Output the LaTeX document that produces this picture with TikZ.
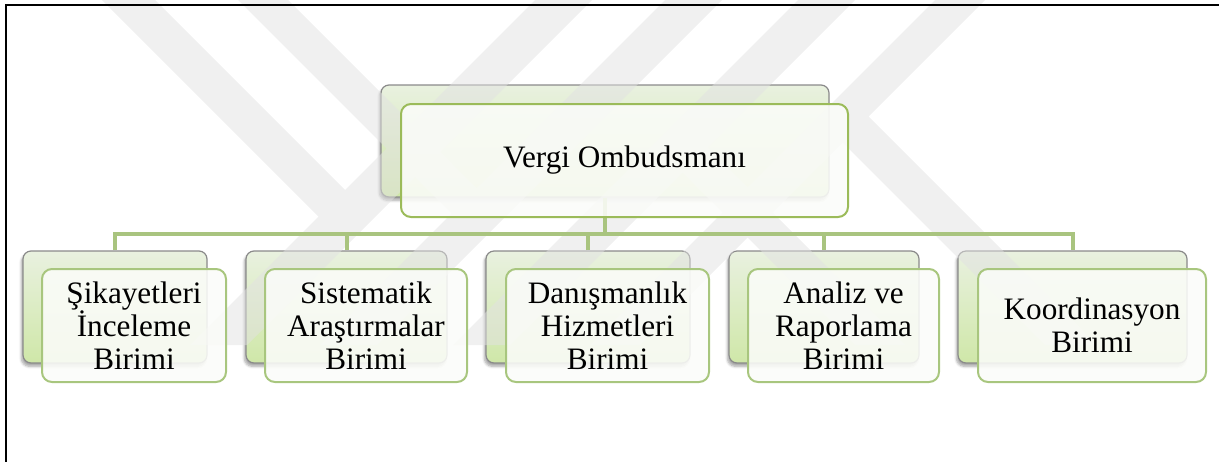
\documentclass[tikz,border=0pt]{standalone}
\usepackage{fontspec}
\setmainfont{Liberation Serif}
\usetikzlibrary{shadows.blur}

\definecolor{wmgray}{RGB}{226,226,226}
\definecolor{linkgreen}{HTML}{A9C47F}
\definecolor{mainedge}{HTML}{9BBB59}
\definecolor{childedge}{HTML}{A8C67E}
\definecolor{backtop}{RGB}{233,241,224}
\definecolor{backbot}{RGB}{207,231,168}
\definecolor{backedge}{HTML}{8A8A8A}
\definecolor{frontfill}{HTML}{FBFCF9}

\begin{document}
\begin{tikzpicture}[x=0.75pt,y=-0.75pt,
  backbox/.style={draw=backedge, line width=0.9pt, rounded corners=6pt,
    top color=backtop, bottom color=backbot,
    blur shadow={shadow xshift=-1.2pt, shadow yshift=-2.5pt,
      shadow blur steps=6, shadow opacity=35},
    minimum height=84pt, inner sep=0pt},
  frontbox/.style={draw=childedge, line width=1.5pt, rounded corners=7.5pt,
    fill=frontfill, fill opacity=0.88, text opacity=1,
    minimum height=84.75pt, inner sep=0pt, align=center,
    font=\fontsize{23.4}{24.75}\selectfont},
  link/.style={draw=linkgreen, line width=3pt}
]
\useasboundingbox (0,0) rectangle (1219,461);

% shaded back cards
\node[backbox, minimum width=336pt] (mb) at (605,141) {};
\node[backbox, minimum width=138pt] (c1b) at (115,307) {};
\node[backbox, minimum width=150.75pt] (c2b) at (346.5,307) {};
\node[backbox, minimum width=153pt] (c3b) at (588,307) {};
\node[backbox, minimum width=142.5pt] (c4b) at (824,307) {};
\node[backbox, minimum width=171.75pt] (c5b) at (1072.5,307) {};

% faint emblem made of diagonal bands, laid over the back cards
\fill[wmgray, fill opacity=0.5]
  (102,0) -- (155,0) -- (345,190) -- (318.5,216.5) -- cycle
  (535,0) -- (592,0) -- (247,345) -- (190,345) -- cycle
  (238,0) -- (288,0) -- (476.5,188.5) -- (451.5,213.5) -- cycle
  (665,0) -- (722,0) -- (377,345) -- (320,345) -- cycle
  (798,0) -- (855,0) -- (510,345) -- (453,345) -- cycle
  (935,0) -- (985,0) -- (640,345) -- (590,345) -- cycle
  (707.5,147.5) -- (905,345) -- (855,345) -- (682.5,172.5) -- cycle
  (868.5,116.5) -- (1097,345) -- (1045,345) -- (842.5,142.5) -- cycle;

% frame
\draw[line width=1.6pt] (6,470) -- (6,5.3) -- (1230,5.3);

% tree connectors
\coordinate (bar) at (0,234);
\draw[link] (mb.south) -- (mb.south |- bar);
\draw[link] (c1b.north) |- (bar -| c5b.north) -- (c5b.north);
\foreach \c in {c2b,c3b,c4b}
  \draw[link] (\c.north) -- (\c.north |- bar);

% front cards with the labels
\node[frontbox, draw=mainedge, minimum width=335.25pt] (m) at (624.5,160.5) {Vergi Ombudsmanı};
\node[frontbox, minimum width=138pt] (c1) at (134,325.5) {Şikayetleri\\İnceleme\\Birimi};
\node[frontbox, minimum width=151.5pt] (c2) at (366,325.5) {Sistematik\\Araştırmalar\\Birimi};
\node[frontbox, minimum width=152.25pt] (c3) at (607.5,325.5) {Danışmanlık\\Hizmetleri\\Birimi};
\node[frontbox, minimum width=143.25pt] (c4) at (843.5,325.5) {Analiz ve\\Raporlama\\Birimi};
\node[frontbox, minimum width=171pt] (c5) at (1092,325.5) {Koordinasyon\\Birimi};
\end{tikzpicture}
\end{document}
